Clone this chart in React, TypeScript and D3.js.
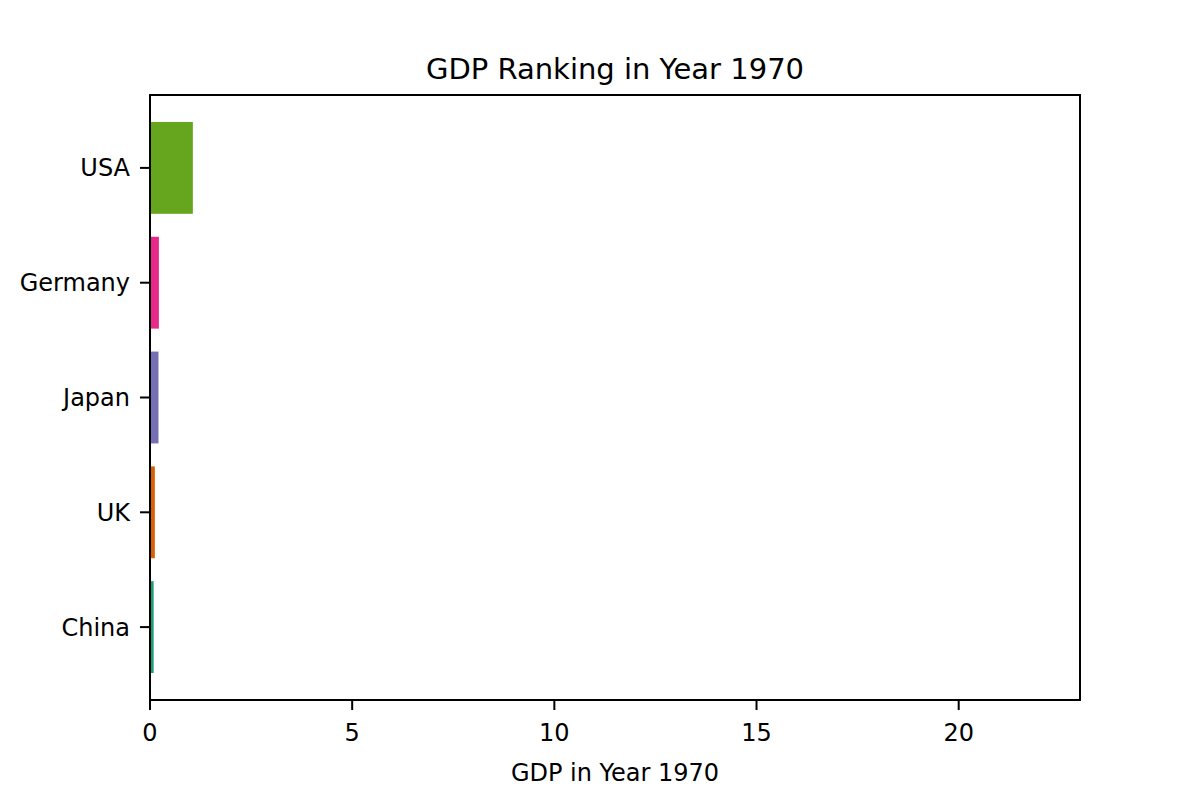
import * as d3 from "d3";

const countries = ["China", "UK", "Japan", "Germany", "USA"];
const gdp = [0.09, 0.12, 0.21, 0.22, 1.06];
const colors = ["#1b9e77", "#d95f02", "#7570b3", "#e7298a", "#66a61e"];
const xTicks = [0, 5, 10, 15, 20];

const W = 1200;
const H = 800;
const M = { top: 95, right: 120, bottom: 100, left: 150 };

export default function App() {
  const x = d3.scaleLinear().domain([0, 23]).range([M.left, W - M.right]);
  const y = d3.scaleLinear().domain([-0.635, 4.635]).range([H - M.bottom, M.top]);
  const barH = y(0) - y(0.8);
  const font = "DejaVu Sans, sans-serif";

  return (
    <svg width={W} height={H} style={{ position: "absolute", left: 0, top: 0 }} fontFamily={font}>
      <rect width={W} height={H} fill="#fff" />
      {countries.map((c, i) => (
        <rect
          key={c}
          x={x(0)}
          y={y(i + 0.4)}
          width={x(gdp[i]) - x(0)}
          height={barH}
          fill={colors[i]}
        />
      ))}
      <rect
        x={M.left}
        y={M.top}
        width={W - M.right - M.left}
        height={H - M.bottom - M.top}
        fill="none"
        stroke="#000"
        strokeWidth={2}
      />
      {xTicks.map((t) => (
        <g key={t} transform={`translate(${x(t)},${H - M.bottom})`}>
          <line y2={10} stroke="#000" strokeWidth={2} />
          <text y={41} textAnchor="middle" fontSize={24}>{t}</text>
        </g>
      ))}
      {countries.map((c, i) => (
        <g key={c} transform={`translate(${M.left},${y(i)})`}>
          <line x2={-10} stroke="#000" strokeWidth={2} />
          <text x={-20} dy="0.35em" textAnchor="end" fontSize={24}>{c}</text>
        </g>
      ))}
      <text x={(M.left + W - M.right) / 2} y={781} textAnchor="middle" fontSize={24}>
        GDP in Year 1970
      </text>
      <text x={(M.left + W - M.right) / 2} y={79} textAnchor="middle" fontSize={29}>
        GDP Ranking in Year 1970
      </text>
    </svg>
  );
}
